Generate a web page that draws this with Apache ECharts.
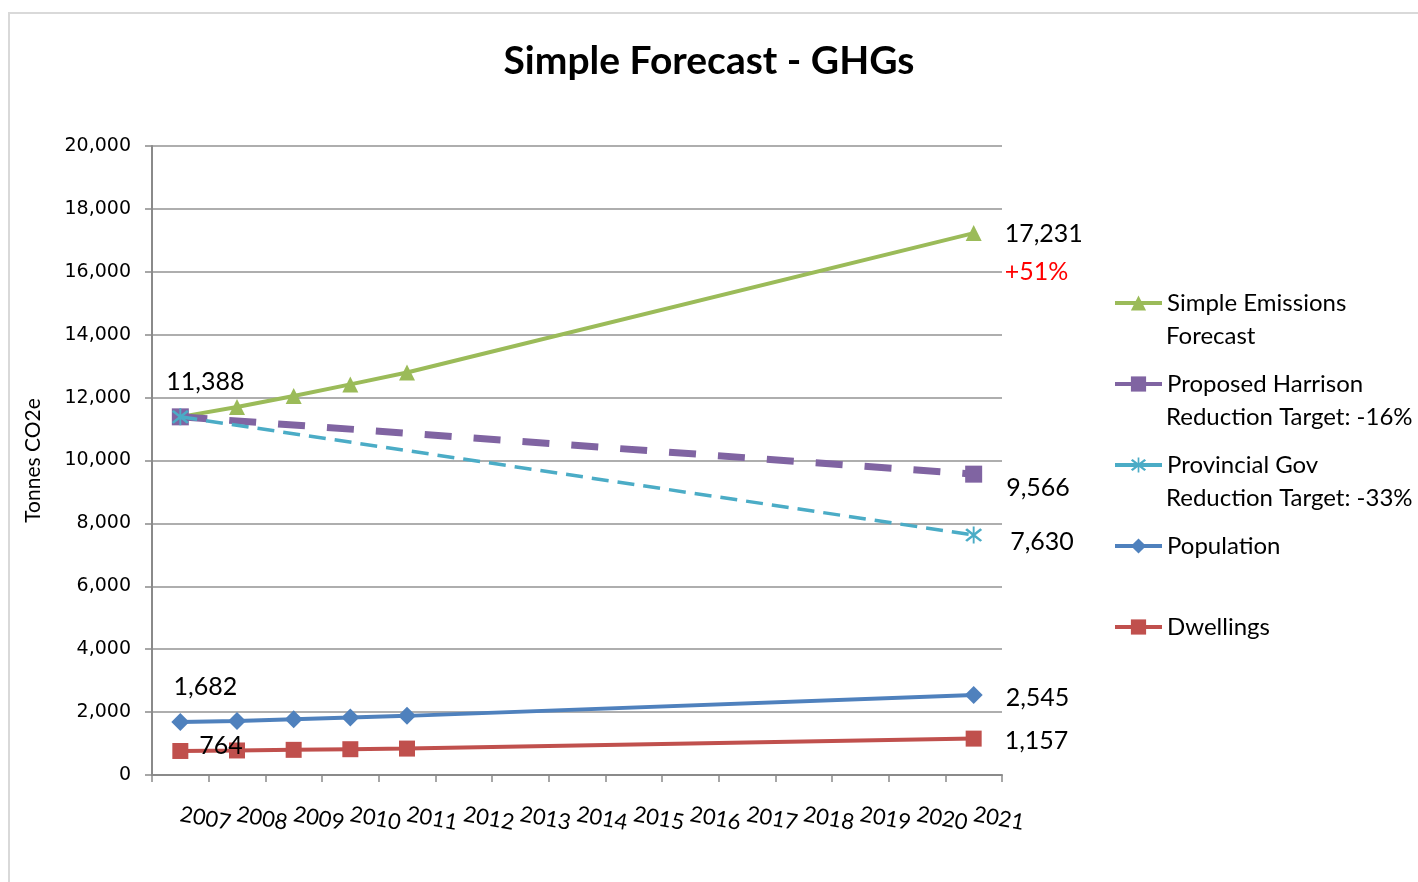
<!DOCTYPE html>
<html>
<head>
<meta charset="utf-8">
<script src="https://cdn.jsdelivr.net/npm/echarts@6/dist/echarts.min.js"></script>
<style>
html,body{margin:0;padding:0;background:#fff;}
#c{width:1418px;height:882px;}
</style>
</head>
<body>
<div id="c"></div>
<script>
// ---- data ----
const years = ['2007','2008','2009','2010','2011','2012','2013','2014','2015','2016','2017','2018','2019','2020','2021'];
const emissions  = [11388, 11700, 12050, 12420, 12800, null, null, null, null, null, null, null, null, null, 17231];
const harrison   = [11388, null, null, null, null, null, null, null, null, null, null, null, null, null, 9566];
const provincial = [11388, null, null, null, null, null, null, null, null, null, null, null, null, null, 7630];
const population = [1682, 1720, 1770, 1830, 1880, null, null, null, null, null, null, null, null, null, 2545];
const dwellings  = [764, 780, 800, 820, 840, null, null, null, null, null, null, null, null, null, 1157];
const seriesNames = ['Simple Emissions', 'Proposed Harrison', 'Provincial Gov', 'Population', 'Dwellings'];
const secondLines = ['Forecast', 'Reduction Target: -16%', 'Reduction Target: -33%'];
const yTicks = {min: 0, max: 20000, interval: 2000};

const FONT = 'Lato';
const fmt = v => v.toLocaleString('en-US');
const pct = Math.round((emissions[14] / emissions[0] - 1) * 100);

function withLabels(values, cfg) {
  return values.map((v, i) => {
    if (v == null || !cfg[i]) return v;
    return {value: v, label: Object.assign({show: true, color: '#000', fontFamily: FONT, fontSize: 25}, cfg[i])};
  });
}
const topLeftLbl = {position: 'top', offset: [25, -9], formatter: p => fmt(p.value)};
const rightLbl = (dy, dist) => ({position: 'right', distance: dist, offset: [0, dy], formatter: p => fmt(p.value)});

const starPath = 'path://M9,0 L11,0 L11,20 L9,20 Z M1,4 L3,2 L19,16 L17,18 Z M17,2 L19,4 L3,18 L1,16 Z';
const legendFont = '24px Lato';

const chart = echarts.init(document.getElementById('c'));
chart.setOption({
  animation: false,
  backgroundColor: '#fff',
  title: {
    text: 'Simple Forecast - GHGs', left: 'center', top: 42, padding: 0,
    textStyle: {fontFamily: FONT, fontWeight: 'bold', fontSize: 39, color: '#000'}
  },
  graphic: [
    {type: 'rect', shape: {x: 9, y: 13, width: 1420, height: 880}, style: {fill: 'none', stroke: '#D9D9D9', lineWidth: 2}, silent: true},
    {type: 'text', left: 1166, top: 324, style: {text: secondLines[0], font: legendFont, fill: '#000'}},
    {type: 'text', left: 1166, top: 405, style: {text: secondLines[1], font: legendFont, fill: '#000'}},
    {type: 'text', left: 1166, top: 486, style: {text: secondLines[2], font: legendFont, fill: '#000'}}
  ],
  legend: {
    orient: 'vertical', left: 1113, top: 289, padding: 0,
    itemWidth: 47, itemHeight: 19, itemGap: 53,
    textStyle: {fontFamily: FONT, fontSize: 24, color: '#000', lineHeight: 28},
    lineStyle: {type: 'solid', width: 4},
    data: seriesNames
  },
  grid: {left: 152, right: 416, top: 146, bottom: 107, containLabel: false},
  xAxis: {
    type: 'category', data: years, boundaryGap: true,
    axisLine: {lineStyle: {color: '#8A8A8A', width: 2}},
    axisTick: {show: true, length: 7, lineStyle: {color: '#8A8A8A', width: 1.5}},
    axisLabel: {rotate: -10, margin: 39, fontFamily: FONT, fontSize: 22, color: '#000', interval: 0}
  },
  yAxis: {
    type: 'value', min: yTicks.min, max: yTicks.max, interval: yTicks.interval,
    name: 'Tonnes CO2e', nameLocation: 'middle', nameRotate: 90, nameGap: 108,
    nameTextStyle: {fontFamily: FONT, fontSize: 21, color: '#000'},
    axisLine: {show: true, lineStyle: {color: '#8A8A8A', width: 2}},
    axisTick: {show: true, length: 7, lineStyle: {color: '#8A8A8A', width: 1.5}},
    axisLabel: {margin: 21, fontFamily: 'DejaVu Sans', fontSize: 19, color: '#000', formatter: v => fmt(v)},
    splitLine: {lineStyle: {color: '#939393', width: 1.5}}
  },
  series: [
    {
      name: seriesNames[0], type: 'line', connectNulls: true,
      data: withLabels(emissions, {
        0: topLeftLbl,
        14: {position: 'right', distance: 23, offset: [0, 20],
             formatter: p => '{a|' + fmt(p.value) + '}\n{b|+' + pct + '%}',
             rich: {a: {fontFamily: FONT, fontSize: 25, color: '#000', lineHeight: 38},
                    b: {fontFamily: FONT, fontSize: 25, color: '#FF0000', lineHeight: 38}}}
      }),
      symbol: 'triangle', symbolSize: 16,
      itemStyle: {color: '#9BBB59'}, lineStyle: {color: '#9BBB59', width: 4}, z: 2
    },
    {
      name: seriesNames[1], type: 'line', connectNulls: true,
      data: withLabels(harrison, {14: rightLbl(14, 24)}),
      symbol: 'rect', symbolSize: 17,
      itemStyle: {color: '#8064A2'}, lineStyle: {color: '#8064A2', width: 7, type: [27, 22]}, z: 3
    },
    {
      name: seriesNames[2], type: 'line', connectNulls: true,
      data: withLabels(provincial, {14: rightLbl(7, 28)}),
      symbol: starPath, symbolSize: 17,
      itemStyle: {color: '#4BACC6'}, lineStyle: {color: '#4BACC6', width: 3.5, type: [17, 9]}, z: 4
    },
    {
      name: seriesNames[3], type: 'line', connectNulls: true,
      data: withLabels(population, {0: topLeftLbl, 14: rightLbl(3, 23)}),
      symbol: 'diamond', symbolSize: 18,
      itemStyle: {color: '#4F81BD'}, lineStyle: {color: '#4F81BD', width: 4}, z: 5
    },
    {
      name: seriesNames[4], type: 'line', connectNulls: true,
      data: withLabels(dwellings, {0: {position: 'right', distance: 11, offset: [0, -5], formatter: p => fmt(p.value)}, 14: rightLbl(2, 23)}),
      symbol: 'rect', symbolSize: 16,
      itemStyle: {color: '#C0504D'}, lineStyle: {color: '#C0504D', width: 4}, z: 6
    }
  ]
});
</script>
</body>
</html>
